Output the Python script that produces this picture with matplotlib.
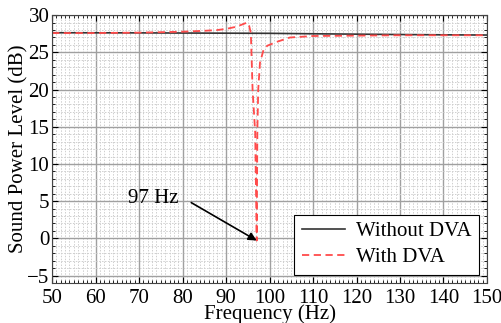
import numpy as np
import matplotlib
matplotlib.use("Agg")
import matplotlib.pyplot as plt
from matplotlib.ticker import MultipleLocator

plt.rcParams['font.family'] = ['Liberation Serif', 'DejaVu Serif']

# without DVA
f_without = [50, 60, 70, 80, 90, 100, 110, 120, 130, 140, 150]
spl_without = [27.64, 27.63, 27.62, 27.6, 27.58, 27.56, 27.5, 27.45, 27.4, 27.36, 27.33]

# with DVA
f_with = [50, 60, 70, 76.4, 80, 85, 87.9, 90, 92, 93.5, 94.8, 95.3, 95.7, 96.1, 96.7,
          97.05, 97.2, 97.4, 97.8, 98.6, 99.5, 101.6, 104.7, 110, 120, 130, 140, 150]
spl_with = [27.6, 27.6, 27.65, 27.73, 27.78, 27.9, 28.0, 28.15, 28.4, 28.7, 29.0, 28.6,
            27.6, 20.0, 14.2, -0.3, 14.5, 20.0, 23.6, 25.3, 25.9, 26.4, 27.0, 27.2,
            27.25, 27.3, 27.3, 27.3]

fig = plt.figure(figsize=(5.01, 3.23), dpi=100)
ax = fig.add_axes([0.104, 0.124, 0.868, 0.829])

ax.plot(f_without, spl_without, color='#333333', lw=1.2, label='Without DVA')
ax.plot(f_with, spl_with, color='#ff4b4b', lw=1.3, ls=(0, (4, 2.5)), label='With DVA')

ax.set_xlim(50, 150)
ax.set_ylim(-6, 30)
ax.xaxis.set_major_locator(MultipleLocator(10))
ax.xaxis.set_minor_locator(MultipleLocator(1))
ax.yaxis.set_major_locator(MultipleLocator(5))
ax.yaxis.set_minor_locator(MultipleLocator(1))
ax.grid(which='major', color='#a0a0a0', lw=1.0)
ax.grid(which='minor', color='#cfcfcf', lw=0.7, ls=(0, (1.5, 1.5)))
ax.set_axisbelow(True)
ax.tick_params(which='both', direction='in', top=True, right=True, labelsize=15, pad=2)
ax.tick_params(axis='x', which='major', pad=4)
ax.tick_params(which='major', length=4)
ax.tick_params(which='minor', length=2)
for s in ax.spines.values():
    s.set_color('#444444')

ax.set_xlabel('Frequency (Hz)', fontsize=15, labelpad=-2)
ax.set_ylabel('Sound Power Level (dB)', fontsize=15, labelpad=-1)

ax.text(73.2, 5.3, '97 Hz', fontsize=15, ha='center', va='center')
ax.annotate('', xy=(97.05, -0.3), xytext=(82, 4.8),
            arrowprops=dict(arrowstyle='-|>', color='black', lw=1.2,
                            mutation_scale=12, shrinkA=0, shrinkB=0))

leg = ax.legend(loc='lower right', fontsize=15, fancybox=False, edgecolor='black',
                framealpha=1, borderaxespad=0.4, handlelength=2.1,
                borderpad=0.35, labelspacing=0.3, handletextpad=0.5)
leg.get_frame().set_linewidth(0.8)

fig.savefig('out.png', dpi=100)
